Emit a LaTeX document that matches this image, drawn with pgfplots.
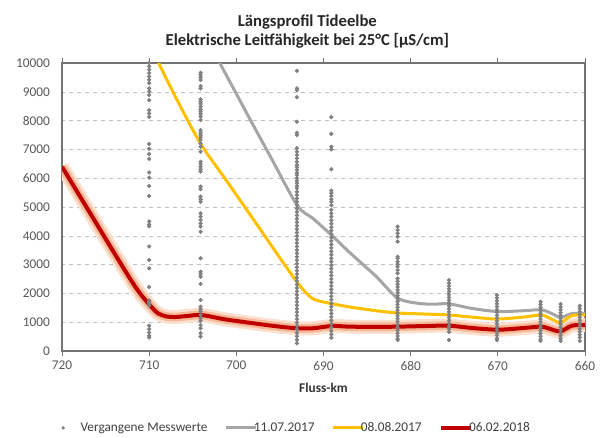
\documentclass[border=0pt]{standalone}
\usepackage{pgfplots}
\usepackage{pgfplotstable}
\pgfplotsset{compat=1.18}
\usepackage{fontspec}
\setmainfont{Carlito}
\definecolor{dotgray}{HTML}{808080}
\definecolor{linegray}{HTML}{A5A5A5}
\definecolor{lineyellow}{HTML}{FFC000}
\definecolor{linered}{HTML}{C00000}
\definecolor{bandouter}{HTML}{FBE0CF}
\definecolor{bandinner}{HTML}{F6B896}
\definecolor{txtgray}{HTML}{595959}
\pgfplotsset{shortline/.style={legend image code/.code={\draw[##1] (0pt,0pt) -- (22.5pt,0pt);}}}
\pgfplotsset{dotlegend/.style={legend image code/.code={\fill[dotgray, draw=none] (0pt,0pt) circle (1.4pt); \path[draw=none, fill=none] (-1.5pt,0pt) -- (16pt,0pt);}}}

\pgfplotstableread{
x y
720 6400
718 5400
716 4400
714 3400
712 2420
711 1980
710 1620
709 1310
708 1200
707 1180
705.5 1220
704 1250
701.3 1100
698 960
695 845
693 790
691.2 790
689 870
687 845
684 840
681.5 845
678 870
675.6 880
673 800
670 740
667 800
665 845
663.8 750
662.8 680
661.5 880
660 900
}\redtab

\pgfplotstableread{
x y
703.2 10700
701.9 10000
698.4 8030
696 6700
693 5050
691.2 4600
689 4000
687 3420
684 2600
681.5 1840
679 1650
677 1630
675.6 1640
673 1480
670 1370
667 1400
665 1430
663.8 1300
662.8 1170
661.5 1300
660 1300
}\graytab

\pgfplotstableread{
x y
709.3 10300
708.8 9930
706.5 8540
704 7150
701.3 5990
698 4550
695 3230
693 2380
692 2020
691.2 1810
690 1700
689 1640
687 1530
684 1400
681.5 1320
678 1280
675.6 1250
672 1150
670 1110
667 1180
665 1250
663.8 1100
662.8 990
661.5 1230
660 1250
}\yellowtab

\pgfplotstableread{
x y
710 10000
710 9880
710 9770
710 9650
710 9530
710 9420
710 9300
710 9120
710 9010
710 8890
710 8710
710 8360
710 8250
710 8130
710 7190
710 7020
710 6840
710 6670
710 6200
710 6020
710 5730
710 5380
710 4500
710 4390
710 4330
710 3630
710 3160
710 2870
710 2220
710 1750
710 1700
710 1640
710 1580
710 880
710 760
710 640
710 530
710 470
704.1 9660
704.1 9580
704.1 9500
704.1 9410
704.1 9200
704.1 9120
704.1 8740
704.1 8660
704.1 8580
704.1 8480
704.1 8390
704.1 8310
704.1 8230
704.1 8140
704.1 8020
704.1 7670
704.1 7580
704.1 7500
704.1 7420
704.1 7330
704.1 7210
704.1 7090
704.1 6920
704.1 6570
704.1 6490
704.1 6400
704.1 6310
704.1 6230
704.1 5710
704.1 5620
704.1 5360
704.1 5270
704.1 5180
704.1 4780
704.1 4660
704.1 4550
704.1 4430
704.1 4320
704.1 4140
704.1 3220
704.1 2750
704.1 2670
704.1 2580
704.1 2330
704.1 1770
704.1 1540
704.1 1450
704.1 1370
704.1 1250
704.1 1140
704.1 1050
704.1 900
704.1 790
704.1 620
704.1 500
693.05 9730
693.05 9120
693.05 9060
693.05 8810
693.05 7960
693.05 7580
693.05 7500
693.05 7040
693.05 6920
693.05 6810
693.05 6690
693.05 6570
693.05 6460
693.05 6380
693.05 6290
693.05 6190
693.05 6110
693.05 6000
693.05 5910
693.05 5820
693.05 5730
693.05 5650
693.05 5530
693.05 5420
693.05 5300
693.05 5180
693.05 5070
693.05 4950
693.05 4830
693.05 4710
693.05 4590
693.05 4470
693.05 4350
693.05 4230
693.05 4110
693.05 3990
693.05 3870
693.05 3750
693.05 3630
693.05 3510
693.05 3390
693.05 3270
693.05 3150
693.05 3030
693.05 2910
693.05 2790
693.05 2670
693.05 2550
693.05 2430
693.05 2310
693.05 2190
693.05 2070
693.05 1950
693.05 1830
693.05 1710
693.05 1590
693.05 1470
693.05 1350
693.05 1230
693.05 1110
693.05 990
693.05 870
693.05 750
693.05 630
693.05 510
693.05 390
693.05 270
689.1 8120
689.1 7540
689.1 7090
689.1 7000
689.1 6310
689.1 5570
689.1 5480
689.1 5380
689.1 5270
689.1 5180
689.1 5060
689.1 4900
689.1 4780
689.1 4660
689.1 4540
689.1 4420
689.1 4300
689.1 4180
689.1 4060
689.1 3940
689.1 3820
689.1 3700
689.1 3580
689.1 3460
689.1 3340
689.1 3220
689.1 3100
689.1 2980
689.1 2860
689.1 2740
689.1 2620
689.1 2500
689.1 2380
689.1 2260
689.1 2140
689.1 2020
689.1 1900
689.1 1780
689.1 1660
689.1 1540
689.1 1420
689.1 1300
689.1 1180
689.1 1060
689.1 940
689.1 820
689.1 700
689.1 580
689.1 460
681.5 4320
681.5 4200
681.5 4090
681.5 3970
681.5 3800
681.5 3270
681.5 3220
681.5 3100
681.5 3010
681.5 2930
681.5 2810
681.5 2700
681.5 2520
681.5 2420
681.5 2320
681.5 2220
681.5 2120
681.5 2020
681.5 1920
681.5 1820
681.5 1720
681.5 1620
681.5 1520
681.5 1420
681.5 1320
681.5 1220
681.5 1120
681.5 1020
681.5 920
681.5 820
681.5 720
681.5 620
681.5 520
681.5 420
681.5 380
675.6 2460
675.6 2360
675.6 2260
675.6 2160
675.6 2060
675.6 1960
675.6 1860
675.6 1760
675.6 1660
675.6 1560
675.6 1460
675.6 1360
675.6 1260
675.6 1160
675.6 1060
675.6 960
675.6 860
675.6 760
675.6 660
675.6 380
670.1 1940
670.1 1840
670.1 1740
670.1 1640
670.1 1540
670.1 1440
670.1 1340
670.1 1240
670.1 1140
670.1 1040
670.1 940
670.1 840
670.1 740
670.1 640
670.1 540
670.1 440
670.1 380
665.1 1710
665.1 1610
665.1 1510
665.1 1410
665.1 1310
665.1 1210
665.1 1110
665.1 1010
665.1 910
665.1 810
665.1 710
665.1 610
665.1 510
665.1 410
665.1 350
662.8 1630
662.8 1530
662.8 1430
662.8 1330
662.8 1230
662.8 1130
662.8 1030
662.8 930
662.8 830
662.8 730
662.8 630
662.8 530
662.8 430
662.8 350
660.6 1570
660.6 1470
660.6 1370
660.6 1270
660.6 1170
660.6 1070
660.6 970
660.6 870
660.6 770
660.6 670
660.6 570
660.6 470
660.6 350
}\dottab

\begin{document}
\begin{tikzpicture}
\path[use as bounding box] (-46.5pt,-64.5pt) rectangle (407.25pt,263.25pt);
\begin{axis}[
  at={(0pt,0pt)}, anchor=south west,
  scale only axis, width=392.25pt, height=216pt,
  x dir=reverse, xmin=660, xmax=720, ymin=0, ymax=10000,
  xtick={660,670,680,690,700,710,720},
  ytick={0,1000,2000,3000,4000,5000,6000,7000,8000,9000,10000},
  scaled ticks=false,
  ymajorgrids, major grid style={dashed, black!25, line width=0.4pt},
  axis line style={black!55, line width=0.8pt},
  tick align=outside, major tick length=4pt,
  xtick style={black!55, line width=0.6pt},
  ytick style={draw=none},
  ticklabel style={font=\fontsize{10}{12}\selectfont, text=txtgray},
  yticklabel style={xshift=-1.5pt},
  /pgf/number format/assume math mode=true,
  /pgf/number format/set thousands separator={},
  xlabel={\textbf{Fluss-km}},
  xlabel style={at={(axis description cs:0.5,-0.128)}, anchor=center, font=\fontsize{10}{12}\selectfont, text=black!80},
  legend style={at={(axis description cs:0.449,-0.267)}, anchor=center, draw=none, fill=none,
    legend columns=4, font=\fontsize{10}{12}\selectfont, text=black!75,
    /tikz/every odd column/.append style={column sep=-5pt},
    /tikz/every even column/.append style={column sep=11pt}},
  legend cell align=left,
]
\addlegendimage{dotlegend}
\addlegendentry{Vergangene Messwerte}
\addplot[forget plot, smooth, color=bandouter, line width=10.5pt] table[x=x,y=y] {\redtab};
\addplot[forget plot, smooth, color=bandinner, line width=6.5pt] table[x=x,y=y] {\redtab};
\addplot[smooth, color=linegray, line width=2.25pt, shortline] table[x=x,y=y] {\graytab};
\addlegendentry{11.07.2017}
\addplot[smooth, color=lineyellow, line width=2.25pt, shortline] table[x=x,y=y] {\yellowtab};
\addlegendentry{08.08.2017}
\addplot[smooth, color=linered, line width=3pt, shortline] table[x=x,y=y] {\redtab};
\addlegendentry{06.02.2018}
\addplot[forget plot, only marks, mark=*, mark size=1.4pt, color=dotgray] table[x=x,y=y] {\dottab};
\end{axis}
\node[align=center, font=\bfseries\fontsize{12.5}{14.5}\selectfont, text=black!85] at (184pt,239.5pt) {Längsprofil Tideelbe\\Elektrische Leitfähigkeit bei 25°C [µS/cm]};
\end{tikzpicture}
\end{document}
